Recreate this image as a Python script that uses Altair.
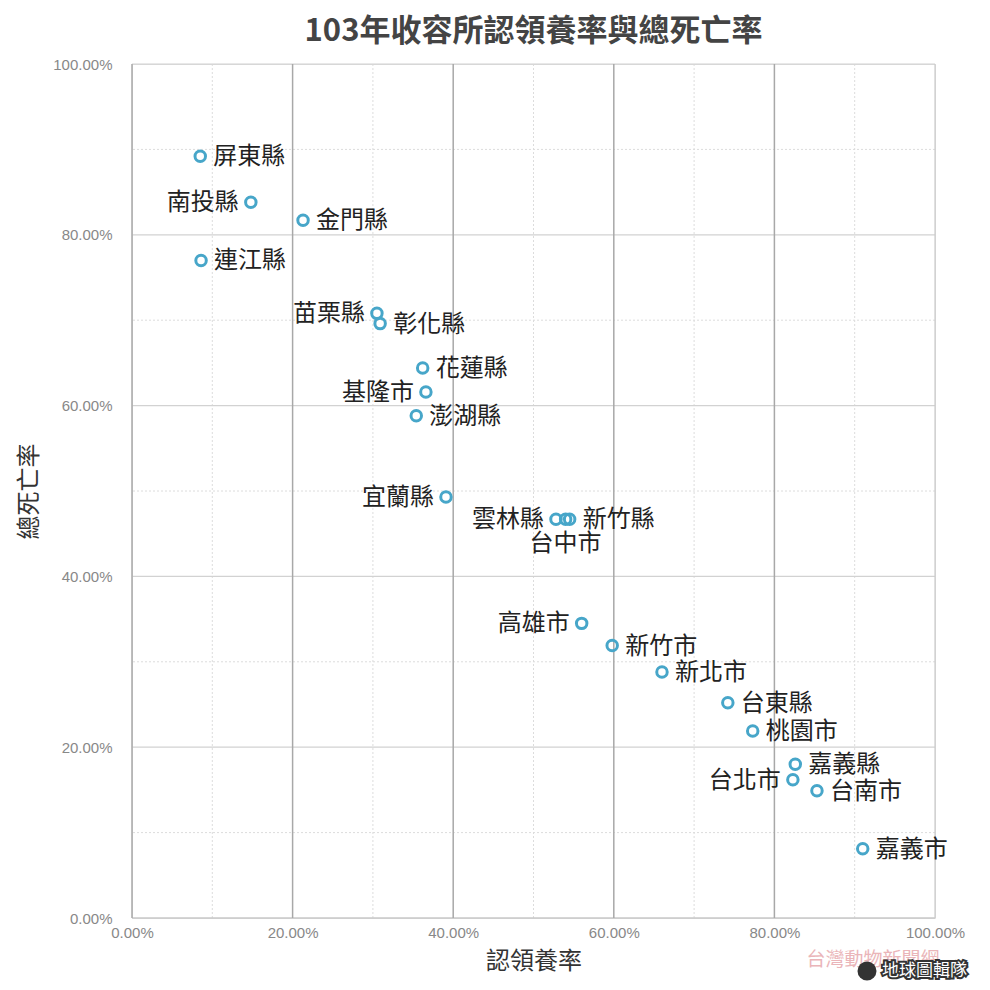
import altair as alt
import pandas as pd

# ---- data ----
names = ["屏東縣", "南投縣", "金門縣", "連江縣", "苗栗縣", "彰化縣", "花蓮縣", "基隆市",
         "澎湖縣", "宜蘭縣", "雲林縣", "台中市", "新竹縣", "高雄市", "新竹市", "新北市",
         "台東縣", "桃園市", "嘉義縣", "台北市", "台南市", "嘉義市"]
adopt = [0.085, 0.148, 0.213, 0.086, 0.305, 0.309, 0.362, 0.366,
         0.354, 0.391, 0.528, 0.540, 0.545, 0.560, 0.598, 0.660,
         0.742, 0.773, 0.826, 0.823, 0.853, 0.910]
death = [0.892, 0.838, 0.817, 0.770, 0.708, 0.696, 0.644, 0.616,
         0.588, 0.493, 0.467, 0.467, 0.467, 0.345, 0.319, 0.288,
         0.252, 0.219, 0.180, 0.162, 0.149, 0.081]
side = ["right", "left", "right", "right", "left", "right", "right", "left",
        "right", "left", "left", "below", "right", "left", "right", "right",
        "right", "right", "right", "left", "right", "right"]

tick_values = [0.0, 0.2, 0.4, 0.6, 0.8, 1.0]
x_major = [0.0, 0.2, 0.4, 0.6, 0.8]
x_edge = [1.0]
minor_ticks = [0.1, 0.3, 0.5, 0.7, 0.9]
y_major = [0.2, 0.4, 0.6, 0.8, 1.0]
y_edge = [0.0]

title_text = "103年收容所認領養率與總死亡率"
x_title = "認領養率"
y_title = "總死亡率"
watermark1 = "台灣動物新聞網"
watermark2 = "地球圖輯隊"

FONT = "Noto Sans CJK TC"
NUMFONT = "Liberation Sans"

df = pd.DataFrame({"name": names, "adopt": adopt, "death": death, "side": side})

xs = alt.Scale(domain=[0, 1], nice=False, zero=True)
ys = alt.Scale(domain=[0, 1], nice=False, zero=True)

x_axis = alt.Axis(title=x_title, format=".2%", values=tick_values,
                  grid=False, ticks=False, domain=False,
                  labelFont=NUMFONT, labelFontSize=15, labelColor="#888888",
                  labelPadding=7, labelFlush=False,
                  titleFont=FONT, titleFontSize=24, titleColor="#333333",
                  titleFontWeight="normal", titleY=31)
y_axis = alt.Axis(title=y_title, format=".2%", values=tick_values,
                  grid=False, ticks=False, domain=False,
                  labelFont=NUMFONT, labelFontSize=15, labelColor="#888888",
                  labelPadding=20, labelFlush=False,
                  titleFont=FONT, titleFontSize=24, titleColor="#333333",
                  titleFontWeight="normal", titleX=-91, titleY=427)


def vrule(vals, color, width=1, dash=None):
    kw = dict(color=color, strokeWidth=width)
    if dash:
        kw["strokeDash"] = dash
    return alt.Chart(pd.DataFrame({"v": vals})).mark_rule(**kw).encode(
        x=alt.X("v:Q", scale=xs, axis=x_axis))


def hrule(vals, color, width=1, dash=None):
    kw = dict(color=color, strokeWidth=width)
    if dash:
        kw["strokeDash"] = dash
    return alt.Chart(pd.DataFrame({"v": vals})).mark_rule(**kw).encode(
        y=alt.Y("v:Q", scale=ys, axis=y_axis))


grid = [
    hrule(minor_ticks, "#dcdcdc", 1, [2, 2]),
    vrule(minor_ticks, "#dcdcdc", 1, [2, 2]),
    hrule(y_major, "#d2d2d2", 1.2),
    hrule(y_edge, "#c8c8c8", 1.5),
    vrule(x_edge, "#cccccc", 1.2),
    vrule(x_major, "#a8a8a8", 1.5),
]

base = alt.Chart(df)

points = base.mark_point(shape="circle", filled=False, color="#47a6c9",
                         strokeWidth=3, size=110, opacity=1).encode(
    x=alt.X("adopt:Q", scale=xs, axis=x_axis),
    y=alt.Y("death:Q", scale=ys, axis=y_axis),
)


def labels(which, **kw):
    return base.transform_filter(alt.datum.side == which).mark_text(
        font=FONT, fontSize=24, color="#222222", **kw).encode(
        x=alt.X("adopt:Q", scale=xs, axis=x_axis),
        y=alt.Y("death:Q", scale=ys, axis=y_axis), text="name:N")


lab_r = labels("right", align="left", baseline="middle", dx=13, dy=1)
lab_l = labels("left", align="right", baseline="middle", dx=-12, dy=1)
lab_b = labels("below", align="center", baseline="middle", dx=0, dy=25)

wm1 = alt.Chart(pd.DataFrame({"t": [watermark1]})).mark_text(
    font=FONT, fontSize=19, color="#e6a3a8", opacity=0.8, align="center", baseline="middle").encode(
    x=alt.value(741), y=alt.value(896), text="t:N")
globe = alt.Chart(pd.DataFrame({"t": [watermark2]})).mark_point(
    shape="circle", filled=True, color="#333333", size=360, opacity=1).encode(
    x=alt.value(735), y=alt.value(907))
wm2_outline = alt.Chart(pd.DataFrame({"t": [watermark2]})).mark_text(
    font=FONT, fontSize=17, fill="white", stroke="#333333", strokeWidth=4,
    align="left", baseline="middle").encode(
    x=alt.value(750), y=alt.value(907), text="t:N")
wm2 = alt.Chart(pd.DataFrame({"t": [watermark2]})).mark_text(
    font=FONT, fontSize=17, color="white", align="left", baseline="middle").encode(
    x=alt.value(750), y=alt.value(907), text="t:N")

chart = alt.layer(*grid, points, lab_r, lab_l, lab_b, wm1, globe, wm2_outline, wm2).properties(
    width=803, height=854,
    title=alt.TitleParams(title_text, font=FONT, fontSize=31, fontWeight="bold",
                          color="#444444", anchor="middle", offset=9),
    autosize=alt.AutoSizeParams(type="none"),
    padding={"left": 124, "top": 56, "right": 46, "bottom": 64},
).configure_view(stroke=None).configure(background="white")

chart.save("out.html", embed_options={"renderer": "svg", "actions": False})
